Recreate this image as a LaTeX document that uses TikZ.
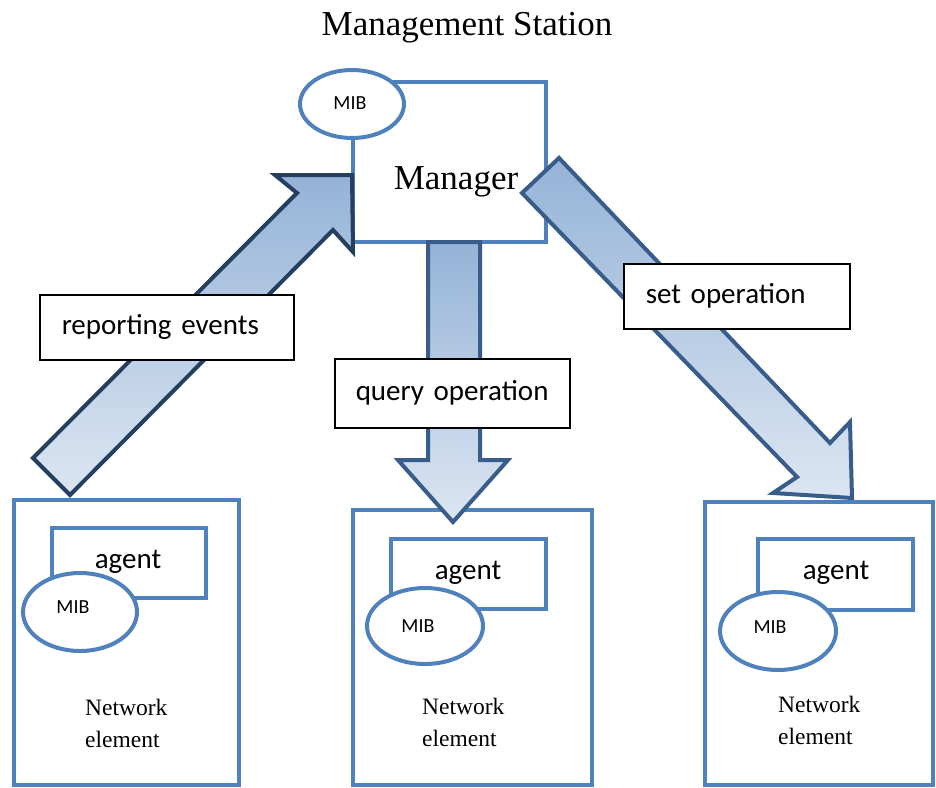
\documentclass[tikz,border=0pt]{standalone}
\usepackage{fontspec}
\newfontfamily\calfont{Carlito}
\newfontfamily\tmsfont{Liberation Serif}
\usetikzlibrary{shapes.geometric}
\definecolor{boxblue}{HTML}{4F81BD}
\definecolor{arrdark}{HTML}{243F60}
\definecolor{arrmid}{HTML}{385D8A}
\definecolor{shtop}{HTML}{95B3D7}
\definecolor{shbot}{HTML}{DCE6F2}
\tikzset{
  bluebox/.style={draw=boxblue, line width=4pt, fill=white, rectangle, inner sep=0pt},
  mibell/.style={draw=boxblue, line width=4pt, fill=white, ellipse, inner sep=0pt},
  blockarrow/.style={line width=4pt, line join=miter, top color=shtop, bottom color=shbot},
  lbl/.style={draw=black, line width=1.5pt, fill=white, rectangle, inner ysep=0pt, align=left,
    font=\calfont\fontsize{29}{34}\selectfont},
  sanstxt/.style={font=\calfont\fontsize{29}{34}\selectfont, inner sep=0pt},
  mibtxt/.style={font=\calfont\fontsize{20}{24}\selectfont, inner sep=0pt},
  netxt/.style={font=\tmsfont\fontsize{23.5}{32}\selectfont, align=left, anchor=west, inner sep=0pt},
  bigserif/.style={font=\tmsfont\fontsize{35}{40}\selectfont, inner sep=0pt}
}
\begin{document}
\begin{tikzpicture}[x=1pt,y=-1pt]
\useasboundingbox (0,0) rectangle (936,787);

% title
\node[bigserif] (title) at (467,28) {Management Station};

% manager
\node[bluebox, minimum width=193, minimum height=160] (mgr) at (449.5,162) {};
\node[bigserif] (mgrtxt) at (456,182) {Manager};
\node[mibell, minimum width=104, minimum height=68] (mmib) at (352,104) {};
\node[mibtxt] (mmibtxt) at (350,103) {MIB};

% network elements
\node[bluebox, minimum width=225, minimum height=285] (ne1) at (126.5,642.5) {};
\node[bluebox, minimum width=239, minimum height=275] (ne2) at (472.5,647.5) {};
\node[bluebox, minimum width=228, minimum height=283] (ne3) at (819,643.5) {};

\node[bluebox, minimum width=154, minimum height=70] (ag1) at (129,563) {};
\node[bluebox, minimum width=155, minimum height=70] (ag2) at (468.5,574) {};
\node[bluebox, minimum width=155, minimum height=71] (ag3) at (835.5,574.5) {};
\node[sanstxt] (ag1t) at (128,562) {agent};
\node[sanstxt] (ag2t) at (468,573) {agent};
\node[sanstxt] (ag3t) at (836,573) {agent};

\node[mibell, minimum width=114, minimum height=78] (mib1) at (80,612) {};
\node[mibell, minimum width=116, minimum height=76] (mib2) at (425,626) {};
\node[mibell, minimum width=116, minimum height=78] (mib3) at (778,631) {};
\node[mibtxt] (mib1t) at (73,607) {MIB};
\node[mibtxt] (mib2t) at (418,626) {MIB};
\node[mibtxt] (mib3t) at (770,627) {MIB};

\node[netxt] (ne1t) at (85,723) {Network\\element};
\node[netxt] (ne2t) at (422,722.5) {Network\\element};
\node[netxt] (ne3t) at (778,720.5) {Network\\element};

% block arrows
\draw[blockarrow, draw=arrdark] (33,458) -- (297,193) -- (275,175) -- (352,175) -- (353,252) -- (333,230) -- (70,495) -- cycle;
\draw[blockarrow, draw=arrmid] (428,242) -- (480,242) -- (480,460) -- (508,460) -- (453,522) -- (398,460) -- (428,460) -- cycle;
\draw[blockarrow, draw=arrmid] (559,158) -- (830,443) -- (850,422) -- (852,498) -- (773,493) -- (797,477) -- (522,193) -- cycle;

% labels
\node[lbl, anchor=north west, minimum width=254, minimum height=65, inner xsep=22pt, text width=210pt] (rep) at (39,294) {reporting events};
\node[lbl, anchor=north west, minimum width=235, minimum height=69, inner xsep=21pt, text width=193pt] (qry) at (334,358) {query operation};
\node[lbl, anchor=north west, minimum width=226, minimum height=65, inner xsep=22pt, text width=182pt] (set) at (623,263) {set operation};
\end{tikzpicture}
\end{document}
